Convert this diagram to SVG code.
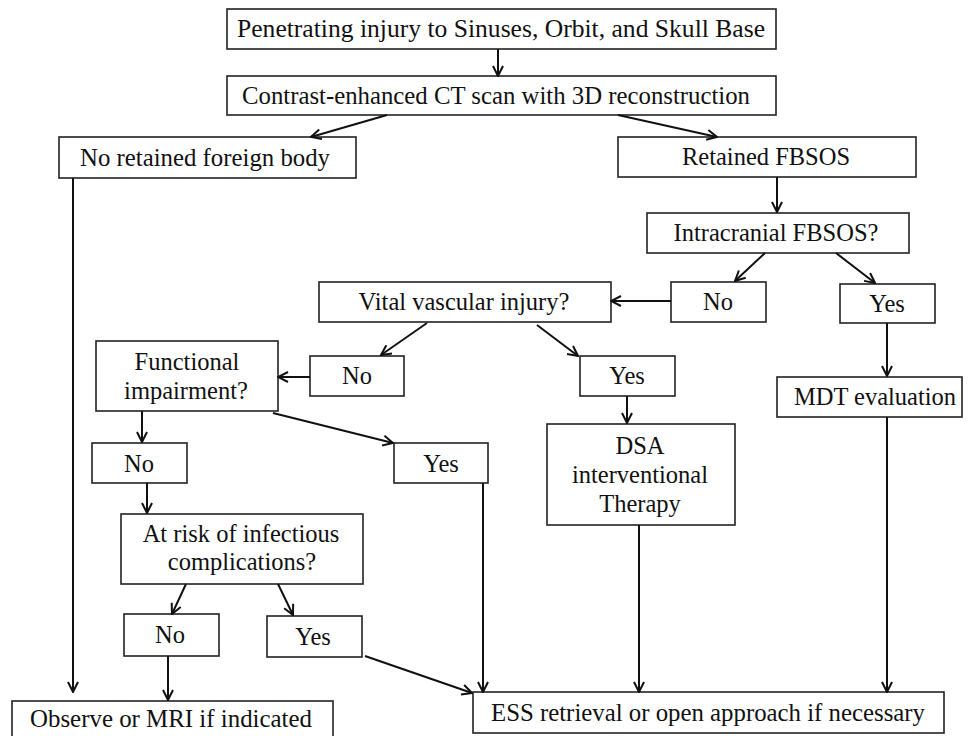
<svg xmlns="http://www.w3.org/2000/svg" width="968" height="736" viewBox="0 0 968 736">
<style>
rect{fill:#fff;stroke:#222;stroke-width:1.6}
text{font-family:"Liberation Serif","Times New Roman",serif;font-size:24.5px;fill:#111;text-anchor:middle}
.c line{stroke:#111;stroke-width:2;marker-end:url(#a)}
</style>
<defs>
<marker id="a" viewBox="0 0 12 12" refX="11" refY="6" markerWidth="12" markerHeight="12" markerUnits="userSpaceOnUse" orient="auto">
<path d="M1,1 L11,6 L1,11" fill="none" stroke="#111" stroke-width="2"/>
</marker>
</defs>
<rect x="0" y="0" width="968" height="736" style="fill:#fff;stroke:none"/>
<g id="n1"><rect x="227" y="9" width="549" height="40"/><text x="501" y="37" textLength="528" lengthAdjust="spacingAndGlyphs">Penetrating injury  to Sinuses,  Orbit, and Skull  Base</text></g>
<g id="n2"><rect x="227" y="76" width="549" height="39"/><text x="496" y="104" textLength="508" lengthAdjust="spacingAndGlyphs">Contrast-enhanced CT scan with 3D reconstruction</text></g>
<g id="n3"><rect x="59" y="137" width="297" height="41"/><text x="205" y="166" textLength="250" lengthAdjust="spacingAndGlyphs">No retained foreign body</text></g>
<g id="n4"><rect x="618" y="137" width="298" height="40"/><text x="766" y="165">Retained FBSOS</text></g>
<g id="n5"><rect x="647" y="213" width="262" height="40"/><text x="776" y="241">Intracranial FBSOS?</text></g>
<g id="n6"><rect x="671" y="282" width="95" height="40"/><text x="718" y="310">No</text></g>
<g id="n7"><rect x="840" y="284" width="95" height="39"/><text x="887" y="312">Yes</text></g>
<g id="n8"><rect x="319" y="282" width="292" height="40"/><text x="464" y="310">Vital vascular injury?</text></g>
<g id="n9"><rect x="310" y="356" width="94" height="40"/><text x="357" y="384">No</text></g>
<g id="n10"><rect x="580" y="356" width="95" height="40"/><text x="627" y="384">Yes</text></g>
<g id="n11"><rect x="96" y="341" width="182" height="70"/><text x="187" y="370">Functional</text><text x="186" y="399">impairment?</text></g>
<g id="n12"><rect x="777" y="377" width="185" height="40"/><text x="875" y="405">MDT evaluation</text></g>
<g id="n13"><rect x="547" y="424" width="188" height="101"/><text x="640" y="454">DSA</text><text x="640" y="483">interventional</text><text x="640" y="512">Therapy</text></g>
<g id="n14"><rect x="92" y="443" width="95" height="40"/><text x="139" y="472">No</text></g>
<g id="n15"><rect x="394" y="443" width="94" height="40"/><text x="441" y="472">Yes</text></g>
<g id="n16"><rect x="121" y="514" width="242" height="70"/><text x="241" y="542">At risk of infectious</text><text x="242" y="570">complications?</text></g>
<g id="n17"><rect x="124" y="614" width="95" height="42"/><text x="170" y="643">No</text></g>
<g id="n18"><rect x="267" y="616" width="95" height="41"/><text x="313" y="645">Yes</text></g>
<g id="n19"><rect x="12" y="701" width="321" height="40"/><text x="171" y="727" textLength="282" lengthAdjust="spacingAndGlyphs">Observe or MRI if indicated</text></g>
<g id="n20"><rect x="473" y="692" width="471" height="41"/><text x="708" y="721" textLength="434" lengthAdjust="spacingAndGlyphs">ESS retrieval or open approach if necessary</text></g>
<g id="connectors" class="c">
<line x1="498" y1="49" x2="498" y2="76"/>
<line x1="387" y1="115" x2="311" y2="137"/>
<line x1="618" y1="115" x2="717" y2="137"/>
<line x1="73" y1="178" x2="73" y2="692"/>
<line x1="777" y1="177" x2="777" y2="212"/>
<line x1="765" y1="253" x2="735" y2="281"/>
<line x1="836" y1="253" x2="875" y2="283"/>
<line x1="671" y1="301" x2="611" y2="301"/>
<line x1="427" y1="323" x2="381" y2="355"/>
<line x1="537" y1="325" x2="578" y2="356"/>
<line x1="310" y1="377" x2="278" y2="377"/>
<line x1="627" y1="396" x2="627" y2="423"/>
<line x1="142" y1="411" x2="142" y2="442"/>
<line x1="273" y1="413" x2="393" y2="443"/>
<line x1="147" y1="483" x2="147" y2="513"/>
<line x1="186" y1="584" x2="172" y2="614"/>
<line x1="278" y1="584" x2="293" y2="615"/>
<line x1="168" y1="656" x2="168" y2="700"/>
<line x1="365" y1="656" x2="472" y2="693"/>
<line x1="483" y1="483" x2="483" y2="692"/>
<line x1="639" y1="525" x2="639" y2="692"/>
<line x1="887" y1="323" x2="887" y2="376"/>
<line x1="887" y1="417" x2="887" y2="692"/>
</g>
</svg>
